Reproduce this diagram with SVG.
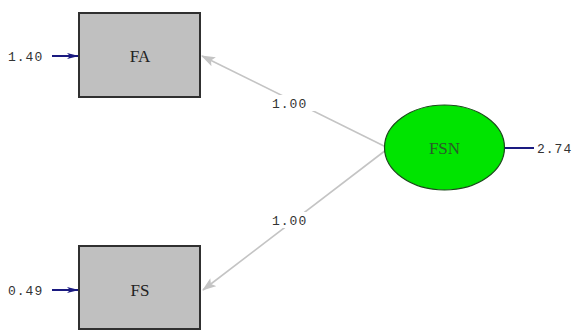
<svg xmlns="http://www.w3.org/2000/svg" width="580" height="331" viewBox="0 0 580 331">
<style>
.box{fill:#c0c0c0;stroke:#303030;stroke-width:2}
.lbl{font-family:"Liberation Serif",serif;font-size:17px;fill:#222;text-anchor:middle}
.num{font-family:"Liberation Mono",monospace;font-size:13px;fill:#333}
.path{stroke:#c4c4c4;stroke-width:1.6;fill:none}
.err{stroke:#1a1a80;stroke-width:2;fill:none}
</style>
<defs>
<marker id="ga" viewBox="0 0 14 10" refX="13" refY="5" markerWidth="14" markerHeight="10" markerUnits="userSpaceOnUse" orient="auto">
<path d="M0,0 L14,5 L0,10 L3,5 Z" fill="#c4c4c4"/>
</marker>
<marker id="ba" viewBox="0 0 12 8" refX="12" refY="4" markerWidth="12" markerHeight="8" markerUnits="userSpaceOnUse" orient="auto">
<path d="M0,1 L12,4 L0,7 L3,4 Z" fill="#1a1a80"/>
</marker>
</defs>
<rect width="580" height="331" fill="#fff"/>
<g id="connectors">
<line class="path" x1="386" y1="147" x2="202" y2="56" marker-end="url(#ga)"/>
<line class="path" x1="386" y1="150" x2="203" y2="290" marker-end="url(#ga)"/>
<rect x="270" y="95" width="46" height="16" fill="#fff"/>
<text class="num" x="272" y="108" letter-spacing="1">1.00</text>
<rect x="270" y="212" width="46" height="16" fill="#fff"/>
<text class="num" x="272" y="225" letter-spacing="1">1.00</text>
<line class="err" x1="52" y1="56" x2="79" y2="56" marker-end="url(#ba)"/>
<text class="num" x="8" y="61" letter-spacing="1">1.40</text>
<line class="err" x1="52" y1="290" x2="79" y2="290" marker-end="url(#ba)"/>
<text class="num" x="8" y="295" letter-spacing="1">0.49</text>
<line class="err" x1="505" y1="148" x2="534" y2="148" stroke-width="1.5"/>
<text class="num" x="537" y="153" letter-spacing="1">2.74</text>
</g>
<g id="FA">
<rect class="box" x="79" y="13" width="121" height="84"/>
<text class="lbl" x="140" y="62">FA</text>
</g>
<g id="FS">
<rect class="box" x="79" y="246" width="121" height="83"/>
<text class="lbl" x="140" y="296">FS</text>
</g>
<g id="FSN">
<ellipse cx="444.5" cy="147.5" rx="60" ry="42.5" fill="#00e400" stroke="#1a4a1a" stroke-width="1.2"/>
<text class="lbl" x="444.5" y="154" style="fill:#2a5a2a">FSN</text>
</g>
</svg>
